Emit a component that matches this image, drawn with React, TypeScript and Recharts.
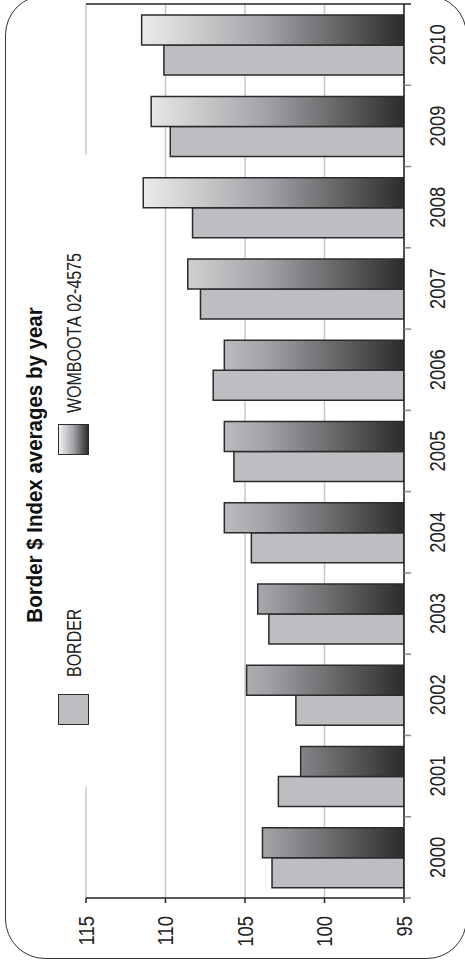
import React from 'react';
import { BarChart, Bar, XAxis, YAxis, CartesianGrid, Legend } from 'recharts';

const years = ['2000', '2001', '2002', '2003', '2004', '2005', '2006', '2007', '2008', '2009', '2010'];
const borderValues = [103.3, 102.9, 101.8, 103.5, 104.6, 105.7, 107.0, 107.8, 108.3, 109.7, 110.1];
const wombootaValues = [103.9, 101.5, 104.9, 104.2, 106.3, 106.3, 106.3, 108.6, 111.4, 110.9, 111.5];
const valueTicks = [95, 100, 105, 110, 115];
const seriesNames = ['BORDER', 'WOMBOOTA 02-4575'];
const titleText = 'Border $ Index averages by year';

const data = years.map((year, i) => ({ year, border: borderValues[i], womboota: wombootaValues[i] }));

const FONT = "'Liberation Sans', Arial, sans-serif";
const NARROW = 0.82;
const W = 965;
const H = 465;
const M = { top: 86, right: 4, bottom: 0, left: 0 };
const Y_W = 67;
const X_H = 61;
const PLOT_W = W - M.left - M.right - Y_W;
const BAND = PLOT_W / years.length;
const AXIS_Y = H - M.bottom - X_H;

const CatTick = (props: any) => {
  const { x, y, payload, index } = props;
  return (
    <g>
      <line x1={x - BAND / 2} x2={x - BAND / 2} y1={y} y2={y + 7} stroke="#8a8a8a" strokeWidth={1.5} />
      {index === years.length - 1 && (
        <line x1={x + BAND / 2} x2={x + BAND / 2} y1={M.top} y2={y + 7} stroke="#222" strokeWidth={1.5} />
      )}
      <text
        x={0}
        y={0}
        transform={`translate(${x},${y + 41}) scale(${NARROW},1)`}
        textAnchor="middle"
        fontSize={22.5}
        fill="#222"
        fontFamily={FONT}
      >
        {payload.value}
      </text>
    </g>
  );
};

const ValTick = (props: any) => {
  const { x, y, payload } = props;
  return (
    <text
      x={0}
      y={0}
      dy="0.355em"
      transform={`translate(${x},${y}) scale(${NARROW},1)`}
      textAnchor="end"
      fontSize={22.5}
      fill="#222"
      fontFamily={FONT}
    >
      {payload.value}
    </text>
  );
};

const legendText: React.CSSProperties = {
  position: 'absolute',
  top: 16,
  fontSize: 19.5,
  lineHeight: '26px',
  color: '#222',
  whiteSpace: 'nowrap',
  fontKerning: 'none',
  transformOrigin: '0 50%',
  transform: `scaleX(${NARROW})`,
};

const renderLegend = () => (
  <div style={{ position: 'relative', width: 632, height: 55, background: '#fff', fontFamily: FONT }}>
    <div style={{ position: 'absolute', left: 62, top: 13, width: 31, height: 31, boxSizing: 'border-box', border: '1.5px solid #2b2b2b', background: '#bdbec2' }} />
    <div style={{ ...legendText, left: 110 }}>{seriesNames[0]}</div>
    <div style={{ position: 'absolute', left: 332, top: 13, width: 31, height: 31, boxSizing: 'border-box', border: '1.5px solid #2b2b2b', background: 'linear-gradient(to bottom, #f2f2f2 0%, #a2a3a7 50%, #2e2e2e 100%)' }} />
    <div style={{ ...legendText, left: 374 }}>{seriesNames[1]}</div>
  </div>
);

export default function App() {
  return (
    <div style={{ position: 'fixed', left: 0, top: 0, width: 465, height: 965, overflow: 'hidden', background: '#fff' }}>
      <div
        style={{
          position: 'absolute',
          left: 0,
          top: 0,
          width: W,
          height: H,
          transformOrigin: '0 0',
          transform: `translateY(${W}px) rotate(-90deg)`,
        }}
      >
        <BarChart width={W} height={H} data={data} margin={M} barCategoryGap="12.5%" barGap={0}>
          <defs>
            <linearGradient id="wombGrad" gradientUnits="userSpaceOnUse" x1="0" y1="128" x2="0" y2={AXIS_Y}>
              <stop offset="0%" stopColor="#f3f3f3" />
              <stop offset="50%" stopColor="#a2a3a7" />
              <stop offset="100%" stopColor="#2c2c2c" />
            </linearGradient>
          </defs>
          <CartesianGrid vertical={false} stroke="#c8c8c8" strokeWidth={1.5} />
          <XAxis
            dataKey="year"
            height={X_H}
            interval={0}
            tickSize={0}
            tickMargin={0}
            tickLine={false}
            axisLine={{ stroke: '#222', strokeWidth: 1.5 }}
            tick={<CatTick />}
          />
          <YAxis
            width={Y_W}
            domain={[95, 115]}
            ticks={valueTicks}
            allowDataOverflow
            tickSize={5}
            tickMargin={13}
            axisLine={{ stroke: '#222', strokeWidth: 1.5 }}
            tickLine={{ stroke: '#222', strokeWidth: 1.5 }}
            tick={<ValTick />}
          />
          <Legend
            verticalAlign="middle"
            align="center"
            layout="horizontal"
            content={renderLegend}
            wrapperStyle={{ left: 178, top: 45, width: 632, height: 55 }}
          />
          <Bar dataKey="border" name={seriesNames[0]} fill="#bdbec2" stroke="#2b2b2b" strokeWidth={1.5} isAnimationActive={false} />
          <Bar dataKey="womboota" name={seriesNames[1]} fill="url(#wombGrad)" stroke="#2b2b2b" strokeWidth={1.5} isAnimationActive={false} />
        </BarChart>
        <div
          style={{
            position: 'absolute',
            left: 300,
            top: 24,
            width: 400,
            textAlign: 'center',
            fontFamily: FONT,
            fontWeight: 'bold',
            fontSize: 22.5,
            lineHeight: '22px',
            color: '#111',
            whiteSpace: 'nowrap',
            transform: 'scaleX(0.91)',
            transformOrigin: '50% 50%',
          }}
        >
          {titleText}
        </div>
      </div>
      <div
        style={{
          position: 'absolute',
          left: 5,
          top: -5,
          width: 462,
          height: 964,
          boxSizing: 'border-box',
          border: '1.5px solid #333',
          borderRadius: 40,
        }}
      />
    </div>
  );
}
